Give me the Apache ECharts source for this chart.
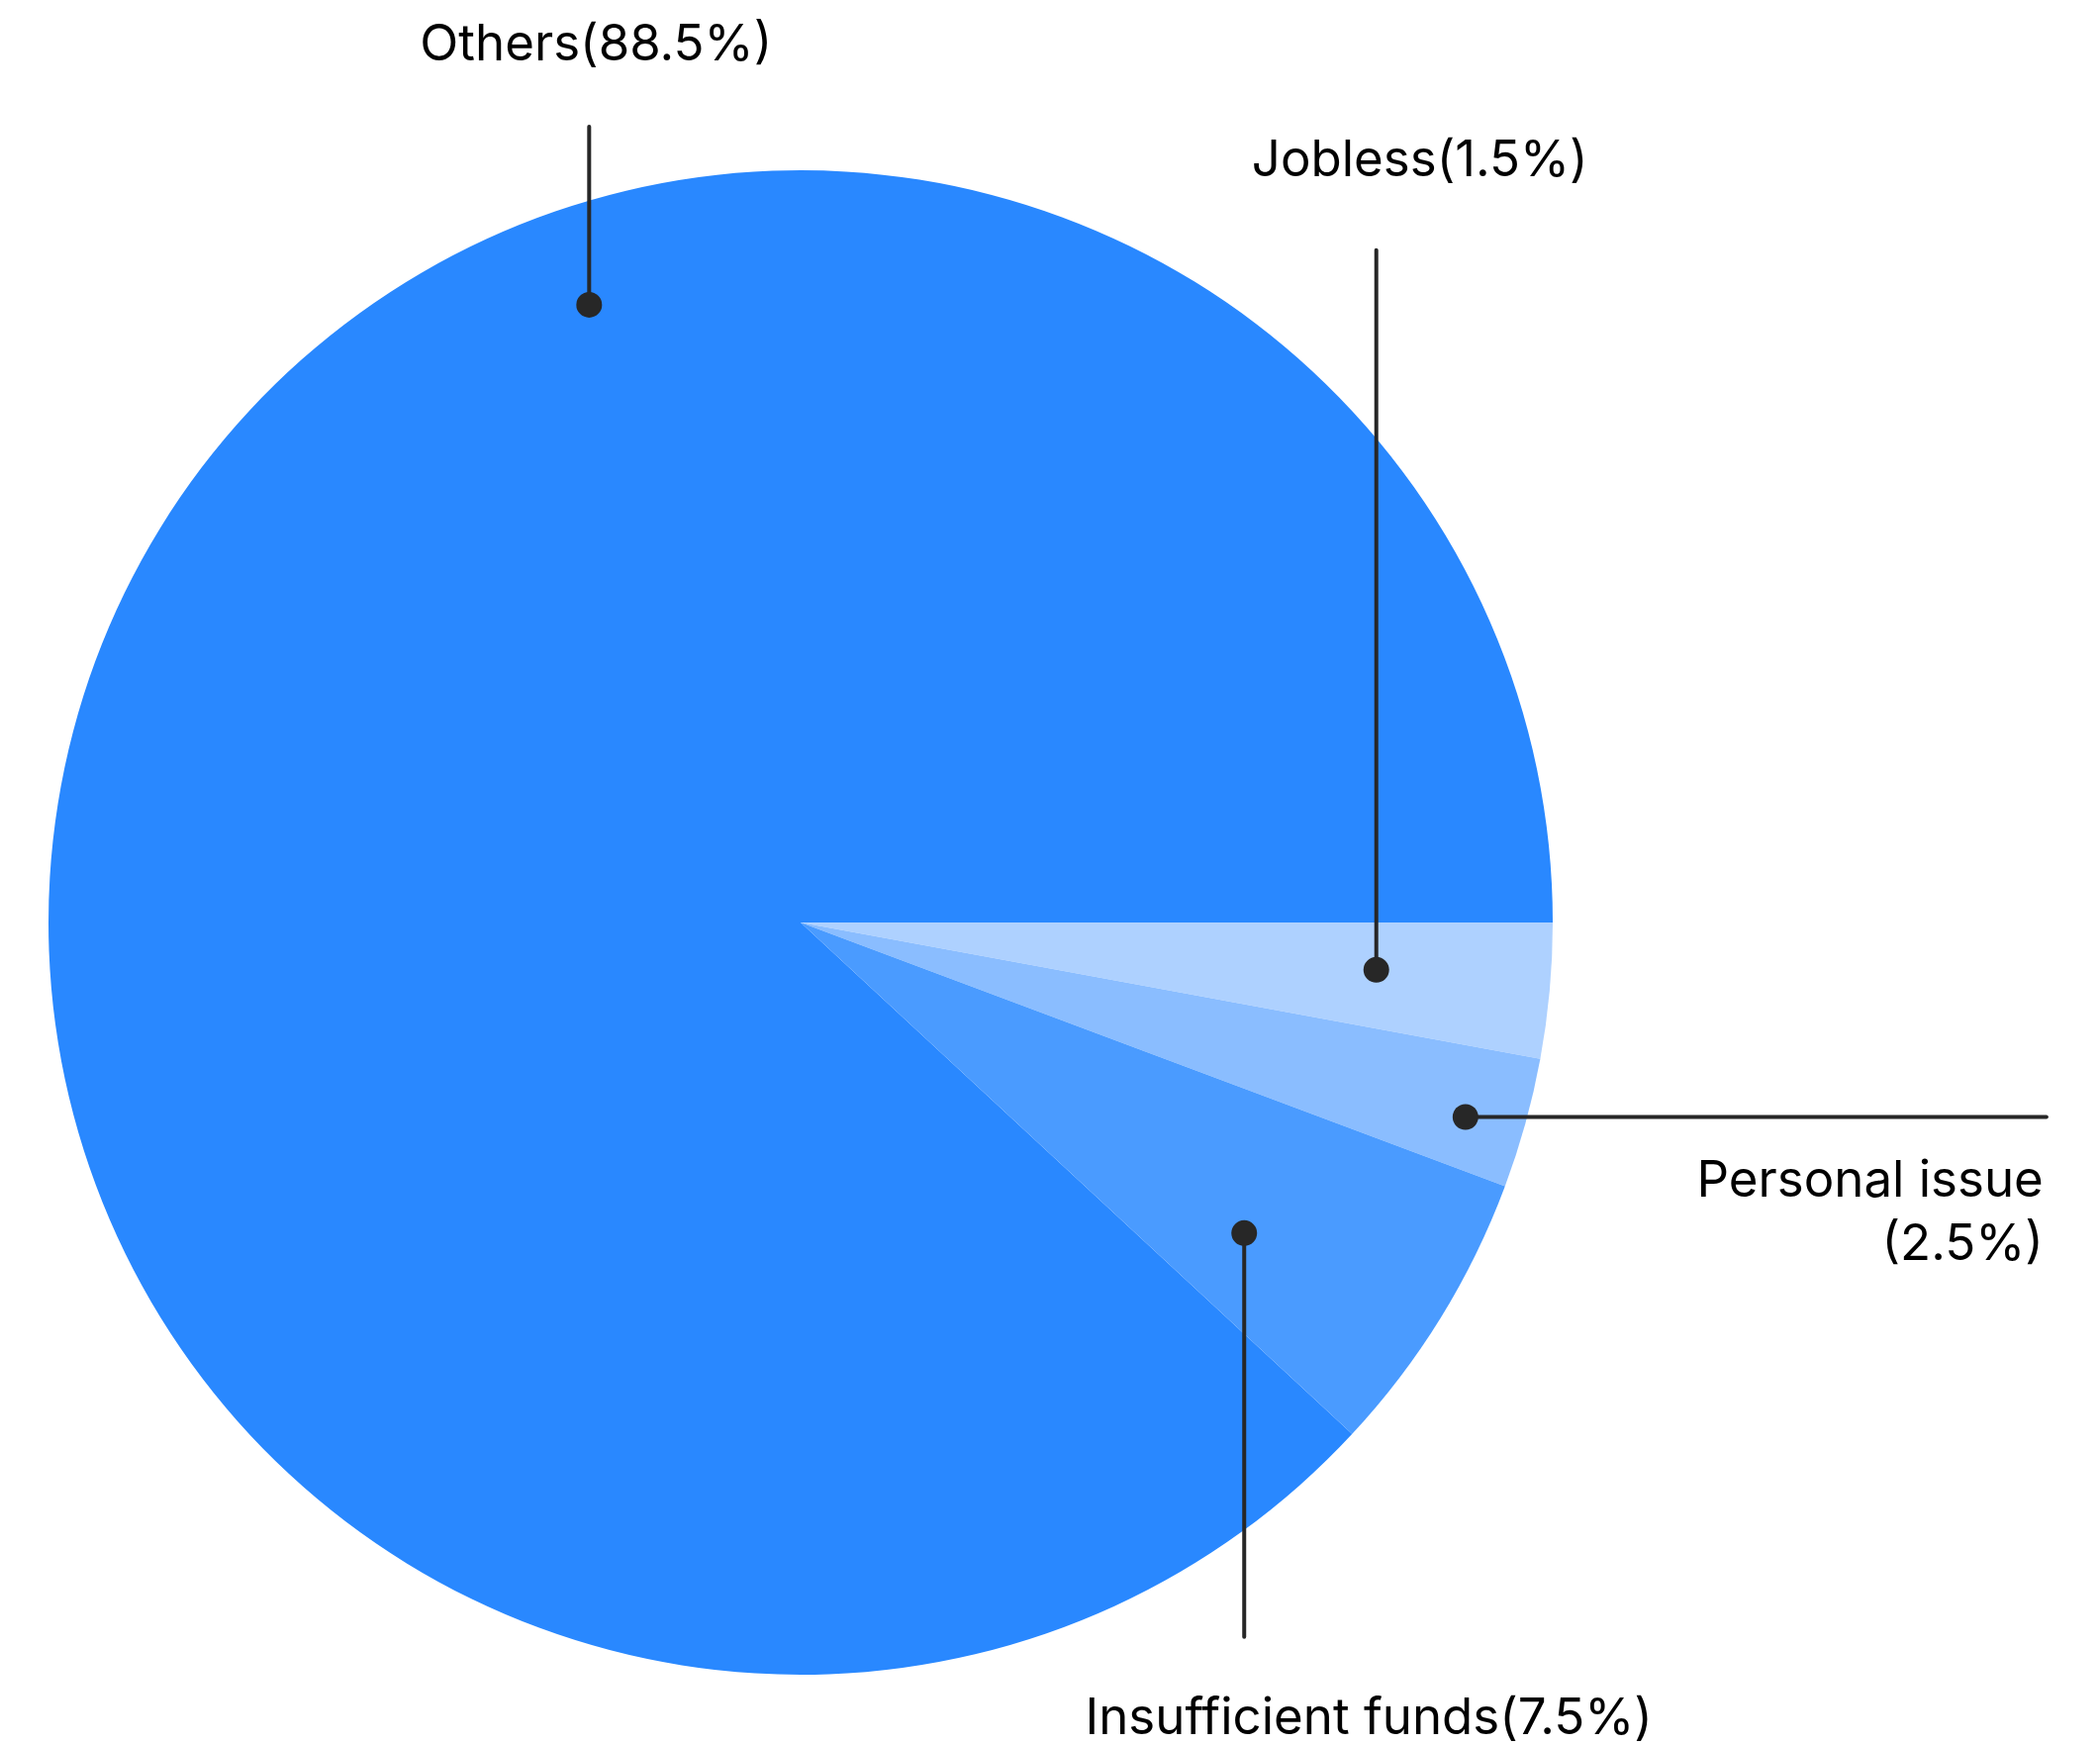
<!DOCTYPE html>
<html>
<head>
<meta charset="utf-8">
<title>Reasons pie</title>
<script src="https://cdn.jsdelivr.net/npm/echarts@6/dist/echarts.min.js"></script>
<style>
  html, body { margin: 0; padding: 0; background: #fff; }
  #chart { width: 2122px; height: 1763px; }
</style>
</head>
<body>
<div id="chart"></div>
<script>
const categories = ['Others', 'Jobless', 'Personal issue', 'Insufficient funds'];
// slice sizes as drawn in the picture (share of the circle)
const sliceValues = [88.1, 2.9, 2.8, 6.2];
// percentages printed in the labels
const labelPercents = [88.5, 1.5, 2.5, 7.5];
const sliceColors = ['#2988ff', '#aed1ff', '#8abdff', '#4a9bff'];

const pieCenter = [809, 932];
const pieRadius = 760;
const fontFamily = 'Inter, "Open Sans", sans-serif';

// dot inside the slice: angle (deg, clockwise from 3 o'clock) and share of radius
// line: from dot to line end, text: from dot to label anchor
const callouts = [
  { angle: -108.9, r: 0.868, line: [0, -180], text: [7, -262], align: 'center' },
  { angle: 4.7, r: 0.768, line: [0, -727], text: [44, -817], align: 'center' },
  { angle: 16.3, r: 0.921, line: [587, 0], text: [584, 97], align: 'right', wrap: true },
  { angle: 35.0, r: 0.72, line: [0, 408], text: [126, 491], align: 'center' }
];

function dotPos(i) {
  const c = callouts[i];
  const a = c.angle * Math.PI / 180;
  return [
    pieCenter[0] + Math.cos(a) * c.r * pieRadius,
    pieCenter[1] + Math.sin(a) * c.r * pieRadius
  ];
}

// "Others" ends at 3 o'clock, the small slices follow it clockwise
const total = sliceValues.reduce((a, b) => a + b, 0);
const startAngle = 360 * sliceValues[0] / total;

const chart = echarts.init(document.getElementById('chart'));

// call-out lines and dots go on top of the slices
const calloutGraphics = [];
callouts.forEach((c, i) => {
  const d = dotPos(i);
  calloutGraphics.push({
    type: 'polyline',
    z: 100,
    shape: { points: [d, [d[0] + c.line[0], d[1] + c.line[1]]] },
    style: { stroke: '#272727', lineWidth: 4, lineCap: 'round', fill: null }
  });
  calloutGraphics.push({
    type: 'circle',
    z: 101,
    shape: { cx: d[0], cy: d[1], r: 13 },
    style: { fill: '#272727' }
  });
});

chart.setOption({
  backgroundColor: '#ffffff',
  animation: false,
  series: [
    {
      type: 'pie',
      center: pieCenter,
      radius: pieRadius,
      startAngle: startAngle,
      clockwise: true,
      avoidLabelOverlap: false,
      silent: true,
      data: categories.map((name, i) => ({
        name: name,
        value: sliceValues[i],
        itemStyle: { color: sliceColors[i] }
      })),
      label: {
        show: true,
        position: 'outside',
        overflow: 'none',
        formatter: (p) => {
          const c = callouts[p.dataIndex];
          return p.name + (c.wrap ? '\n' : '') + '(' + labelPercents[p.dataIndex] + '%)';
        },
        fontFamily: fontFamily,
        fontSize: 51,
        lineHeight: 64,
        color: '#000000'
      },
      labelLine: { show: false },
      labelLayout: (params) => {
        const i = params.dataIndex;
        const c = callouts[i];
        const d = dotPos(i);
        return {
          x: d[0] + c.text[0],
          y: d[1] + c.text[1],
          align: c.align,
          verticalAlign: 'middle'
        };
      }
    }
  ],
  graphic: calloutGraphics
});
</script>
</body>
</html>
